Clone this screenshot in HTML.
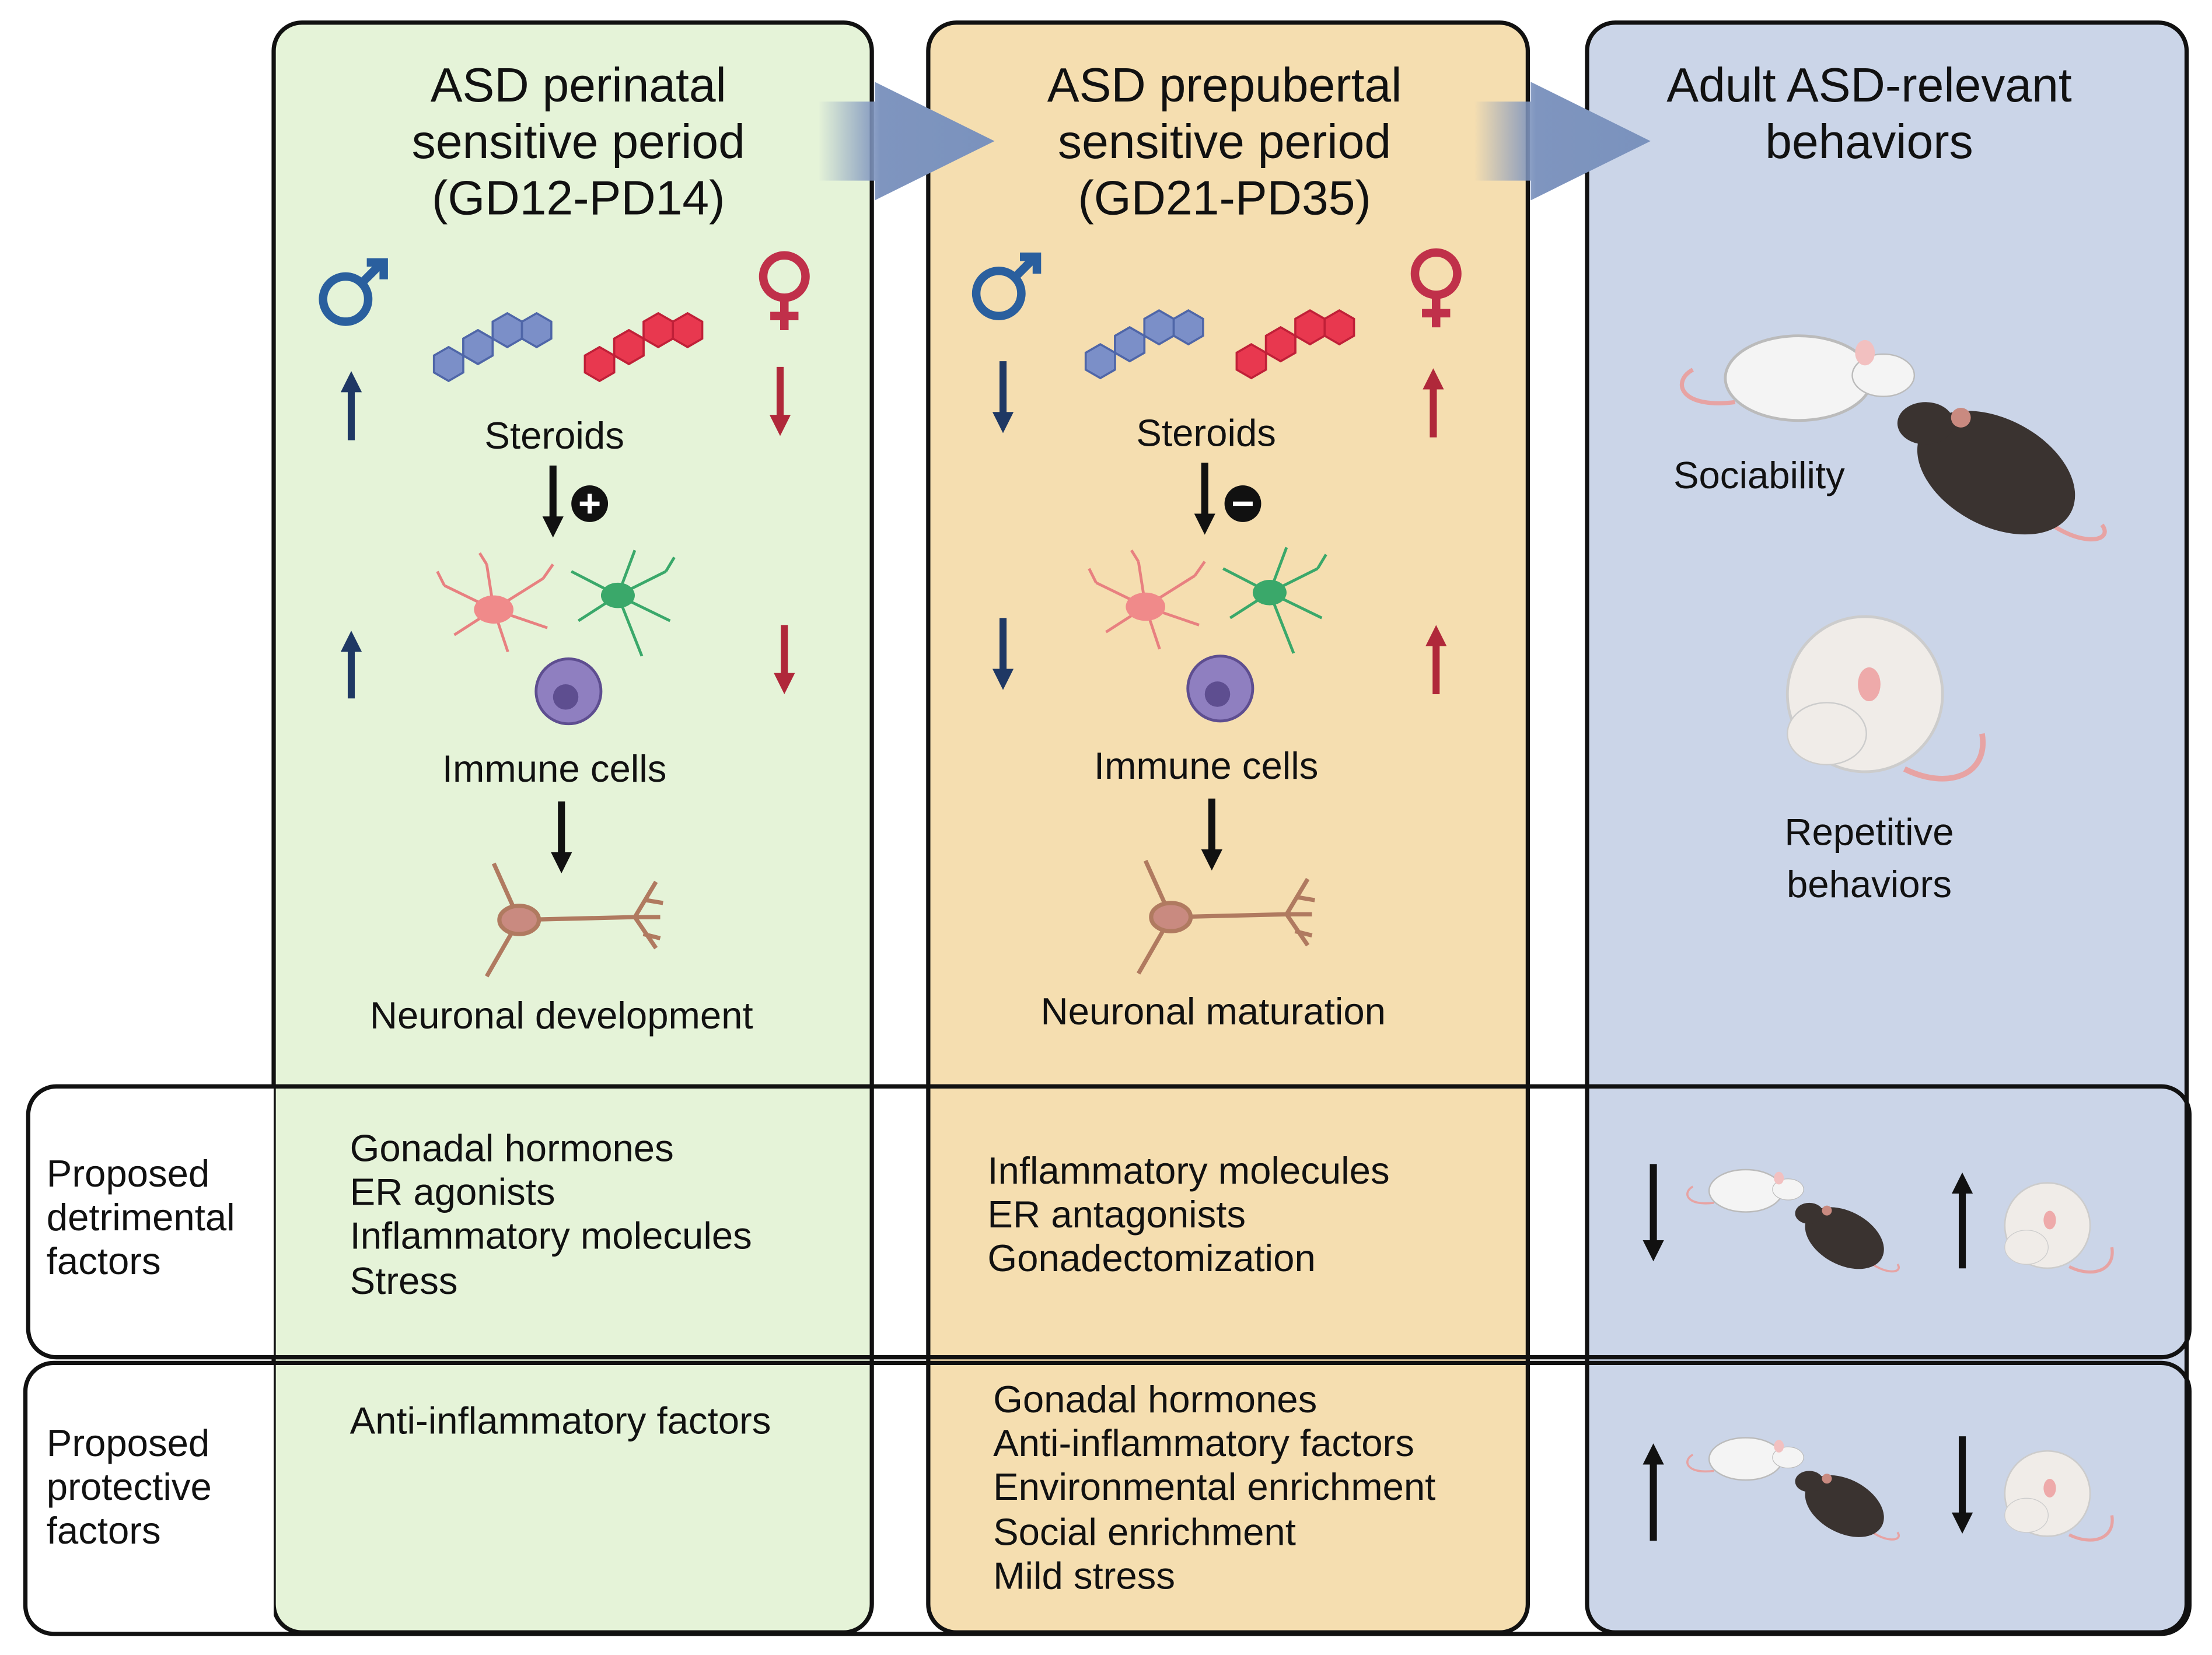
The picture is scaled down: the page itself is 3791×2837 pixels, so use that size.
<!DOCTYPE html>
<html><head><meta charset="utf-8"><style>
html,body{margin:0;padding:0;background:#fff;}
svg{display:block;}
text{font-family:"Liberation Sans",sans-serif;fill:#111;}
</style></head><body>
<svg width="3791" height="2837" viewBox="0 0 1568 1173" preserveAspectRatio="none" xmlns="http://www.w3.org/2000/svg">
<defs>
<linearGradient id="ag" x1="0" x2="1" y1="0" y2="0">
<stop offset="0" stop-color="#7f95bf" stop-opacity="0"/>
<stop offset="0.35" stop-color="#7f95bf"/>
<stop offset="1" stop-color="#7a92bd"/>
</linearGradient>
<marker id="h" viewBox="0 0 10 10" refX="4" refY="5" markerWidth="3" markerHeight="3.4" orient="auto"><path d="M0,0L10,5L0,10z" fill="context-stroke"/></marker>
<polygon id="hx" points="0,-12 10.4,-6 10.4,6 0,12 -10.4,6 -10.4,-6"/>
<g id="ster">
<use href="#hx" x="0" y="0"/><use href="#hx" x="20.8" y="-12"/><use href="#hx" x="41.6" y="-24"/><use href="#hx" x="62.4" y="-24"/>
<use href="#hx" x="20.8" y="-12" transform="translate(0,0)"/>
</g>
</defs>
<rect x="194" y="16" width="424" height="1141" rx="20" fill="#e5f3d8" stroke="#111" stroke-width="3"/>
<rect x="658" y="16" width="425" height="1141" rx="20" fill="#f5deb0" stroke="#111" stroke-width="3"/>
<rect x="1125" y="16" width="425" height="1141" rx="20" fill="#cbd5e8" stroke="#111" stroke-width="3"/>
<path d="M194,770 H40 a20,20 0 0 0 -20,20 V942 a20,20 0 0 0 20,20 H194 Z" fill="#fff"/>
<path d="M194,966 H38 a20,20 0 0 0 -20,20 V1138 a20,20 0 0 0 20,20 H194 Z" fill="#fff"/>
<rect x="20" y="770" width="1532" height="192" rx="20" fill="none" stroke="#111" stroke-width="3"/>
<rect x="18" y="966" width="1534" height="192" rx="20" fill="none" stroke="#111" stroke-width="3"/>
<path d="M580,72 H620 V58 L705,100 L620,142 V128 H580 Z" fill="url(#ag)"/>
<path d="M1045,72 H1085 V58 L1170,100 L1085,142 V128 H1045 Z" fill="url(#ag)"/>
<g font-size="34" text-anchor="middle">
<text x="410" y="72">ASD perinatal</text><text x="410" y="112">sensitive period</text><text x="410" y="152">(GD12-PD14)</text>
<text x="868" y="72">ASD prepubertal</text><text x="868" y="112">sensitive period</text><text x="868" y="152">(GD21-PD35)</text>
<text x="1325" y="72">Adult ASD-relevant</text><text x="1325" y="112">behaviors</text>
</g>
<g font-size="27" text-anchor="middle">
<text x="393" y="318">Steroids</text><text x="855" y="316">Steroids</text>
<text x="393" y="554">Immune cells</text><text x="855" y="552">Immune cells</text>
<text x="398" y="729">Neuronal development</text><text x="860" y="726">Neuronal maturation</text>
<text x="1247" y="346">Sociability</text>
<text x="1325" y="599">Repetitive</text><text x="1325" y="636">behaviors</text>
</g>
<g font-size="27">
<text x="33" y="841">Proposed</text><text x="33" y="872">detrimental</text><text x="33" y="903">factors</text>
<text x="33" y="1032">Proposed</text><text x="33" y="1063">protective</text><text x="33" y="1094">factors</text>
<text x="248" y="823">Gonadal hormones</text><text x="248" y="854">ER agonists</text><text x="248" y="885">Inflammatory molecules</text><text x="248" y="917">Stress</text>
<text x="248" y="1016">Anti-inflammatory factors</text>
<text x="700" y="839">Inflammatory molecules</text><text x="700" y="870">ER antagonists</text><text x="700" y="901">Gonadectomization</text>
<text x="704" y="1001">Gonadal hormones</text><text x="704" y="1032">Anti-inflammatory factors</text><text x="704" y="1063">Environmental enrichment</text><text x="704" y="1095">Social enrichment</text><text x="704" y="1126">Mild stress</text>
</g>
<g fill="none" stroke-width="6">
<g stroke="#2a5f9e"><circle cx="245" cy="212" r="16"/><path d="M257,200 L271,186 M260,186 H272 V198"/>
<circle cx="708" cy="208" r="16"/><path d="M720,196 L734,182 M723,182 H735 V194"/></g>
<g stroke="#c0304a"><circle cx="556" cy="196" r="15"/><path d="M556,211 V234 M546,224 H566"/>
<circle cx="1018" cy="194" r="15"/><path d="M1018,209 V232 M1008,222 H1028"/></g>
</g>
<g stroke-width="5" fill="none">
<g stroke="#1f3864"><path d="M249,312 V272" marker-end="url(#h)"/><path d="M249,495 V456" marker-end="url(#h)"/>
<path d="M711,256 V298" marker-end="url(#h)"/><path d="M711,438 V480" marker-end="url(#h)"/></g>
<g stroke="#b0283a"><path d="M553,260 V300" marker-end="url(#h)"/><path d="M556,443 V483" marker-end="url(#h)"/>
<path d="M1016,310 V270" marker-end="url(#h)"/><path d="M1018,492 V452" marker-end="url(#h)"/></g>
<g stroke="#111"><path d="M392,330 V372" marker-end="url(#h)"/><path d="M398,568 V610" marker-end="url(#h)"/>
<path d="M854,328 V370" marker-end="url(#h)"/><path d="M859,566 V608" marker-end="url(#h)"/>
<path d="M1172,825 V885" marker-end="url(#h)"/><path d="M1391,899 V840" marker-end="url(#h)"/>
<path d="M1172,1092 V1032" marker-end="url(#h)"/><path d="M1391,1018 V1078" marker-end="url(#h)"/></g>
</g>
<circle cx="418" cy="357" r="13" fill="#111"/><path d="M411,357H425M418,350V364" stroke="#fff" stroke-width="3"/>
<circle cx="881" cy="357" r="13" fill="#111"/><path d="M874,357H888" stroke="#fff" stroke-width="3"/>
<g fill="#7b8fc8" stroke="#4f66a8" stroke-width="1.5"><use href="#ster" x="318" y="258"/></g>
<g fill="#e8384f" stroke="#c02038" stroke-width="1.5"><use href="#ster" x="425" y="258"/></g>
<g fill="#7b8fc8" stroke="#4f66a8" stroke-width="1.5"><use href="#ster" x="780" y="256"/></g>
<g fill="#e8384f" stroke="#c02038" stroke-width="1.5"><use href="#ster" x="887" y="256"/></g>
<g id="cells">
<g stroke="#e88080" stroke-width="2" fill="none"><path d="M350,432 L315,415 M350,432 L322,450 M350,432 L345,400 M350,432 L385,410 M350,432 L388,445 M350,432 L360,462 M315,415 L310,405 M385,410 L392,400 M345,400 L340,392"/></g>
<ellipse cx="350" cy="432" rx="14" ry="10" fill="#f08a8a"/>
<g stroke="#3aa86a" stroke-width="2" fill="none"><path d="M438,422 L405,405 M438,422 L410,440 M438,422 L450,390 M438,422 L472,405 M438,422 L475,440 M438,422 L455,465 M472,405 L478,395"/></g>
<ellipse cx="438" cy="422" rx="12" ry="9" fill="#3aa86a"/>
<circle cx="403" cy="490" r="23" fill="#8f7fc0" stroke="#5e4e90" stroke-width="2"/><circle cx="401" cy="494" r="9" fill="#5e4e90"/>
</g>
<use href="#cells" x="462" y="-2"/>
<g id="neu" stroke="#b07a60" stroke-width="3" fill="none">
<path d="M345,692 L368,652 L350,612 M368,652 L450,650 L465,625 M450,650 L465,672 M450,650 L468,650 M458,638 L470,640 M456,662 L468,665"/>
<ellipse cx="368" cy="652" rx="14" ry="10" fill="#c98a80"/>
</g>
<use href="#neu" x="462" y="-2"/>
<g id="soc">
<path d="M1230,285 C1190,290 1185,270 1200,262" stroke="#e7a3a3" stroke-width="3" fill="none"/>
<ellipse cx="1275" cy="268" rx="52" ry="30" fill="#f4f4f4" stroke="#bbb" stroke-width="2"/>
<ellipse cx="1335" cy="266" rx="22" ry="15" fill="#f4f4f4" stroke="#bbb"/>
<ellipse cx="1322" cy="250" rx="7" ry="9" fill="#f2c0c0"/>
<path d="M1440,360 C1470,390 1500,385 1490,372" stroke="#e7a3a3" stroke-width="3" fill="none"/>
<ellipse cx="1415" cy="335" rx="60" ry="38" fill="#3a3330" transform="rotate(28 1415 335)"/>
<ellipse cx="1365" cy="300" rx="20" ry="15" fill="#3a3330"/>
<circle cx="1390" cy="296" r="7" fill="#c98a80"/>
</g>
<g id="rep">
<path d="M1350,545 C1380,560 1410,550 1405,520" stroke="#e7a3a3" stroke-width="4" fill="none"/>
<ellipse cx="1322" cy="492" rx="55" ry="55" fill="#f0ece8" stroke="#ccc" stroke-width="2"/>
<ellipse cx="1295" cy="520" rx="28" ry="22" fill="#f0ece8" stroke="#ccc"/>
<ellipse cx="1325" cy="485" rx="8" ry="12" fill="#eaa"/>
</g>
<g transform="translate(1190,820) scale(0.5) translate(-1180,-220)"><use href="#soc"/></g>
<g transform="translate(1420,840) scale(0.55) translate(-1265,-440)"><use href="#rep"/></g>
<g transform="translate(1190,1010) scale(0.5) translate(-1180,-220)"><use href="#soc"/></g>
<g transform="translate(1420,1030) scale(0.55) translate(-1265,-440)"><use href="#rep"/></g>
</svg>
</body></html>
